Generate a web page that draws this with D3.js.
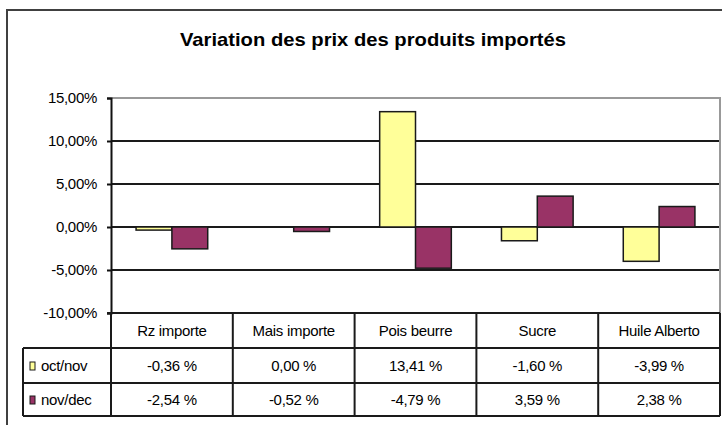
<!DOCTYPE html>
<html>
<head>
<meta charset="utf-8">
<script src="https://cdn.jsdelivr.net/npm/d3@7"></script>
<style>
  body { margin: 0; background: #fff; }
  svg { display: block; font-family: 'Liberation Sans', Arial, sans-serif; }
</style>
</head>
<body>
<svg width="722" height="425"></svg>
<script>
const categories = ['Rz importe', 'Mais importe', 'Pois beurre', 'Sucre', 'Huile Alberto']
const seriesNames = ['oct/nov', 'nov/dec']
const octNov = [-0.36, 0.00, 13.41, -1.60, -3.99]
const novDec = [-2.54, -0.52, -4.79, 3.59, 2.38]
const yTicks = [-10, -5, 0, 5, 10, 15]
const colors = ['#FFFF99', '#993366']

const series = [octNov, novDec]

const svg = d3.select('svg')
const plot = { left: 111, right: 720, top: 98, bottom: 313 }
const table = { left: 23, row1: 348, row2: 383, row3: 416 }

const fr = d3.formatLocale({ decimal: ',', thousands: ' ', grouping: [3], currency: ['', ''], minus: '-' })
const fmt = fr.format('.2f')

// outer chart frame (runs past the image on the right and bottom)
svg.append('rect')
  .attr('x', 7).attr('y', 10)
  .attr('width', 740).attr('height', 440)
  .attr('fill', 'none')
  .attr('stroke', '#404040')
  .attr('stroke-width', 2)

svg.append('text')
  .attr('x', 373).attr('y', 46)
  .attr('text-anchor', 'middle')
  .attr('font-size', 19)
  .attr('font-weight', 'bold')
  .attr('textLength', 386)
  .attr('lengthAdjust', 'spacingAndGlyphs')
  .text('Variation des prix des produits importés')

let y = d3.scaleLinear().domain([-10, 15]).range([plot.bottom, plot.top])
let x0 = d3.scaleBand().domain(categories).range([plot.left, plot.right])
let x1 = d3.scaleBand().domain(seriesNames).range([0, x0.bandwidth()]).paddingOuter(0.7).paddingInner(0)

// gridlines
svg.append('g').selectAll('line')
  .data(yTicks.filter(d => d !== 15 && d !== -10))
  .enter()
  .append('line')
  .attr('x1', plot.left).attr('x2', plot.right)
  .attr('y1', d => y(d)).attr('y2', d => y(d))
  .attr('stroke', '#1a1a1a')
  .attr('stroke-width', 2)

// plot area border (top / right)
svg.append('path')
  .attr('d', `M${plot.left},${plot.top}H${plot.right}V${plot.bottom}`)
  .attr('fill', 'none')
  .attr('stroke', '#999')
  .attr('stroke-width', 2)

// bars
series.forEach(function (values, s) {
  svg.append('g').selectAll('rect')
    .data(values)
    .enter()
    .append('rect')
    .attr('x', (d, i) => x0(categories[i]) + x1(seriesNames[s]))
    .attr('y', d => y(Math.max(0, d)))
    .attr('width', x1.bandwidth())
    .attr('height', d => Math.abs(y(d) - y(0)))
    .attr('fill', colors[s])
    .attr('stroke', '#1a1a1a')
    .attr('stroke-width', 1.5)
})

// y axis
let yAxis = d3.axisLeft(y)
  .tickValues(yTicks)
  .tickSize(4)
  .tickFormat(d => fmt(d) + '%')
let ya = svg.append('g')
  .attr('transform', `translate(${plot.left},0)`)
  .call(yAxis)
ya.select('.domain').attr('stroke', '#111').attr('stroke-width', 2)
ya.selectAll('.tick line').attr('stroke', '#111').attr('stroke-width', 2)
ya.selectAll('.tick text')
  .attr('x', -14)
  .attr('font-size', 15)
  .attr('font-family', "'Liberation Sans', Arial, sans-serif")
  .attr('fill', '#000')
  .attr('letter-spacing', -0.3)

// data table
let tg = svg.append('g').attr('stroke', '#1a1a1a').attr('stroke-width', 2)
tg.append('line')
  .attr('x1', plot.left - 4).attr('x2', plot.right)
  .attr('y1', plot.bottom).attr('y2', plot.bottom)
;[table.row1, table.row2, table.row3].forEach(function (ry) {
  tg.append('line')
    .attr('x1', table.left).attr('x2', plot.right)
    .attr('y1', ry).attr('y2', ry)
})
tg.append('line')
  .attr('x1', table.left).attr('x2', table.left)
  .attr('y1', table.row1).attr('y2', table.row3)
categories.concat(['end']).forEach(function (c, i) {
  let xx = i < categories.length ? x0(c) : plot.right
  tg.append('line')
    .attr('x1', xx).attr('x2', xx)
    .attr('y1', plot.bottom).attr('y2', table.row3)
})

svg.append('g').selectAll('text')
  .data(categories)
  .enter()
  .append('text')
  .attr('x', d => x0(d) + x0.bandwidth() / 2)
  .attr('y', (table.row1 + plot.bottom) / 2 + 5.5)
  .attr('text-anchor', 'middle')
  .attr('font-size', 15)
  .attr('letter-spacing', -0.3)
  .text(d => d)

let rowsY = [(table.row1 + table.row2) / 2 + 5.5, (table.row2 + table.row3) / 2 + 5.5]
series.forEach(function (values, s) {
  svg.append('g').selectAll('text')
    .data(values)
    .enter()
    .append('text')
    .attr('x', (d, i) => x0(categories[i]) + x0.bandwidth() / 2)
    .attr('y', rowsY[s])
    .attr('text-anchor', 'middle')
    .attr('font-size', 15)
    .attr('letter-spacing', -0.3)
    .text(d => fmt(d) + ' %')

  svg.append('rect')
    .attr('x', 30).attr('y', rowsY[s] - 9)
    .attr('width', 5).attr('height', 8)
    .attr('fill', colors[s])
    .attr('stroke', '#1a1a1a')
    .attr('stroke-width', 1)
  svg.append('text')
    .attr('x', 41).attr('y', rowsY[s])
    .attr('font-size', 15)
    .attr('letter-spacing', -0.3)
    .text(seriesNames[s])
})
</script>
</body>
</html>
